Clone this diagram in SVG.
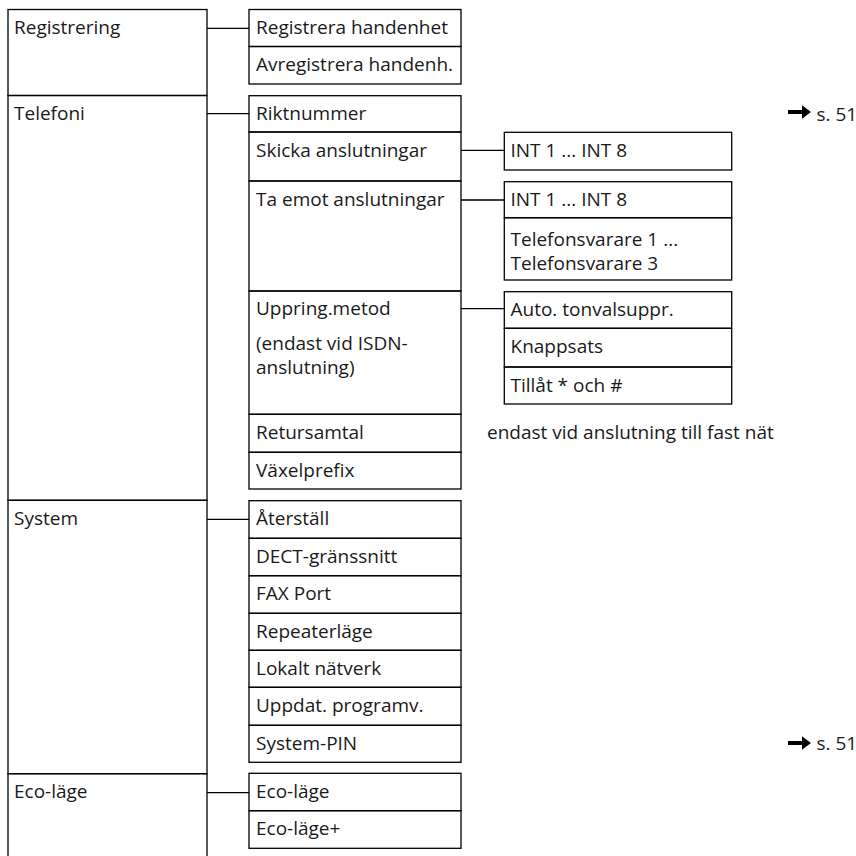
<svg xmlns="http://www.w3.org/2000/svg" width="856" height="856" viewBox="0 0 856 856">
<style>
.b{fill:none;stroke:#000;stroke-width:1.3}
.c{fill:none;stroke:#000;stroke-width:1.3}
.t{font-family:"Open Sans",sans-serif;font-size:19px;fill:#1a1a1a}
.ar{fill:#000}
</style>
<defs>
<path id="arrow" d="M0,-2 h14 v-4.7 l9,6.7 l-9,6.7 v-4.7 h-14 z"/>
</defs>
<rect width="856" height="856" fill="#fff"/>
<g id="connectors">
<line class="c" x1="207" y1="28.3" x2="249" y2="28.3"/>
<line class="c" x1="207" y1="113.7" x2="249" y2="113.7"/>
<line class="c" x1="207" y1="519.3" x2="249" y2="519.3"/>
<line class="c" x1="207" y1="792.7" x2="249" y2="792.7"/>
<line class="c" x1="461" y1="150.3" x2="504.3" y2="150.3"/>
<line class="c" x1="461" y1="200" x2="504.3" y2="200"/>
<line class="c" x1="461" y1="308.7" x2="504.3" y2="308.7"/>
</g>
<g id="n-registrering"><rect class="b" x="8" y="9.5" width="199" height="86"/><text class="t" x="14" y="34.3">Registrering</text></g>
<g id="n-telefoni"><rect class="b" x="8" y="95.5" width="199" height="404.8"/><text class="t" x="14" y="120">Telefoni</text></g>
<g id="n-system"><rect class="b" x="8" y="500.3" width="199" height="273.4"/><text class="t" x="14" y="525">System</text></g>
<g id="n-eco"><rect class="b" x="8" y="773.7" width="199" height="100"/><text class="t" x="14" y="798">Eco-läge</text></g>

<g id="n-reg-hand"><rect class="b" x="249" y="9.5" width="212" height="37"/><text class="t" x="256" y="34.3">Registrera handenhet</text></g>
<g id="n-avreg"><rect class="b" x="249" y="46.5" width="212" height="37.5"/><text class="t" x="256" y="71">Avregistrera handenh.</text></g>

<g id="n-riktnummer"><rect class="b" x="249" y="95.7" width="212" height="36.3"/><text class="t" x="256" y="120">Riktnummer</text></g>
<g id="n-skicka"><rect class="b" x="249" y="132" width="212" height="49"/><text class="t" x="256" y="156.5">Skicka anslutningar</text></g>
<g id="n-taemot"><rect class="b" x="249" y="181" width="212" height="110"/><text class="t" x="256" y="205.5">Ta emot anslutningar</text></g>
<g id="n-uppring"><rect class="b" x="249" y="291" width="212" height="123.3"/><text class="t" x="256" y="315">Uppring.metod</text><text class="t" x="256" y="350">(endast vid ISDN-</text><text class="t" x="256" y="374">anslutning)</text></g>
<g id="n-retur"><rect class="b" x="249" y="414.3" width="212" height="38"/><text class="t" x="256" y="438.8">Retursamtal</text></g>
<g id="n-vaxel"><rect class="b" x="249" y="452.3" width="212" height="36.7"/><text class="t" x="256" y="476.8">Växelprefix</text></g>

<g id="n-aterstall"><rect class="b" x="249" y="500.7" width="212" height="37.6"/><text class="t" x="256" y="525">Återställ</text></g>
<g id="n-dect"><rect class="b" x="249" y="538.3" width="212" height="37.4"/><text class="t" x="256" y="562.8">DECT-gränssnitt</text></g>
<g id="n-fax"><rect class="b" x="249" y="575.7" width="212" height="37.6"/><text class="t" x="256" y="600.2">FAX Port</text></g>
<g id="n-repeater"><rect class="b" x="249" y="613.3" width="212" height="37"/><text class="t" x="256" y="637.8">Repeaterläge</text></g>
<g id="n-lokalt"><rect class="b" x="249" y="650.3" width="212" height="37"/><text class="t" x="256" y="674.8">Lokalt nätverk</text></g>
<g id="n-uppdat"><rect class="b" x="249" y="687.3" width="212" height="38"/><text class="t" x="256" y="711.8">Uppdat. programv.</text></g>
<g id="n-syspin"><rect class="b" x="249" y="725.3" width="212" height="37"/><text class="t" x="256" y="749.8">System-PIN</text></g>

<g id="n-eco1"><rect class="b" x="249" y="773.3" width="212" height="37.4"/><text class="t" x="256" y="798">Eco-läge</text></g>
<g id="n-eco2"><rect class="b" x="249" y="810.7" width="212" height="37.6"/><text class="t" x="256" y="835.2">Eco-läge+</text></g>

<g id="n-int-skicka"><rect class="b" x="504.3" y="132.3" width="227.4" height="37.7"/><text class="t" x="510.5" y="156.8">INT 1 ... INT 8</text></g>
<g id="n-int-taemot"><rect class="b" x="504.3" y="181.7" width="227.4" height="36"/><text class="t" x="510.5" y="206.2">INT 1 ... INT 8</text></g>
<g id="n-tsv"><rect class="b" x="504.3" y="217.7" width="227.4" height="62.3"/><text class="t" x="510.5" y="246">Telefonsvarare 1 ...</text><text class="t" x="510.5" y="270">Telefonsvarare 3</text></g>
<g id="n-auto"><rect class="b" x="504.3" y="291.7" width="227.4" height="36.6"/><text class="t" x="510.5" y="316.2">Auto. tonvalsuppr.</text></g>
<g id="n-knapp"><rect class="b" x="504.3" y="328.3" width="227.4" height="38.7"/><text class="t" x="510.5" y="352.8">Knappsats</text></g>
<g id="n-tillat"><rect class="b" x="504.3" y="367" width="227.4" height="37"/><text class="t" x="510.5" y="391.5">Tillåt * och #</text></g>

<g id="n-note-retur"><text class="t" x="487" y="438.8">endast vid anslutning till fast nät</text></g>
<g id="n-ref1"><use href="#arrow" class="ar" x="788" y="112"/><text class="t" x="816.5" y="120.5">s. 51</text></g>
<g id="n-ref2"><use href="#arrow" class="ar" x="788" y="743"/><text class="t" x="816.5" y="750">s. 51</text></g>
</svg>
